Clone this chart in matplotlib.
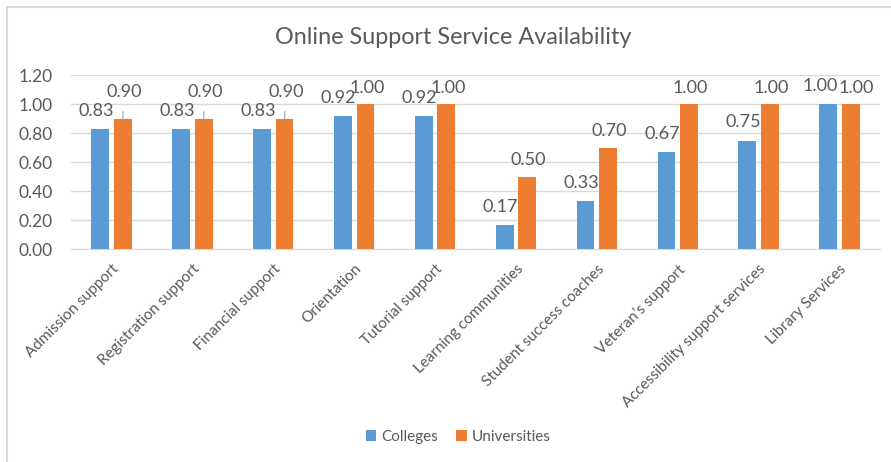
import matplotlib.pyplot as plt
import numpy as np
from matplotlib.patches import Rectangle

services = ["Admission support", "Registration support", "Financial support", "Orientation",
            "Tutorial support", "Learning communities", "Student success coaches",
            "Veteran\u2019s support", "Accessibility support services", "Library Services"]
colleges = [0.83, 0.83, 0.83, 0.92, 0.92, 0.17, 0.33, 0.67, 0.75, 1.00]
universities = [0.90, 0.90, 0.90, 1.00, 1.00, 0.50, 0.70, 1.00, 1.00, 1.00]

plt.rcParams['font.family'] = ['Lato', 'DejaVu Sans']
gray = "#595959"
blue = "#5B9BD5"
orange = "#ED7D31"

fig = plt.figure(figsize=(8.91, 4.62), dpi=100)
ax = fig.add_axes([71/891, 1 - 249.3/462, (880-71)/891, (249.3-75.3)/462])

# chart border like the spreadsheet frame
fig.patches.append(Rectangle((6.5/891, -0.1), 1.2, 1.1 - 7.5/462, transform=fig.transFigure,
                             fill=False, edgecolor="#D9D9D9", linewidth=1.5))

x = np.arange(len(services))
w = 0.22
off = 0.14
b1 = ax.bar(x - off, colleges, w, color=blue, label="Colleges")
b2 = ax.bar(x + off, universities, w, color=orange, label="Universities")

ax.set_xlim(-0.5, len(services) - 0.5)
ax.set_ylim(0, 1.2)
ax.set_yticks(np.arange(0, 1.21, 0.2))
ax.set_yticklabels([f"{v:.2f}" for v in np.arange(0, 1.21, 0.2)])
ax.grid(axis='y', color="#D9D9D9", linewidth=1)
ax.set_axisbelow(True)
for s in ["top", "right", "left"]:
    ax.spines[s].set_visible(False)
ax.spines["bottom"].set_color("#D9D9D9")
ax.tick_params(axis='both', length=0, colors=gray)
ax.tick_params(axis='y', pad=13, labelsize=12.5)
ax.set_xticks(x)
ax.set_xticklabels(services, rotation=45, ha='right', rotation_mode='anchor', fontsize=11)
ax.tick_params(axis='x', pad=9)

# data labels
for i, (c, u) in enumerate(zip(colleges, universities)):
    dx = -6 if i == 9 else -3
    ax.annotate(f"{c:.2f}", (x[i] - off, c), xytext=(dx, 13), textcoords='offset points',
                ha='center', va='center', fontsize=13, color=gray)
    if u - c < 0.1 and u < 1.0:
        ax.annotate(f"{u:.2f}", (x[i] + off, u), xytext=(1, 19), textcoords='offset points',
                    ha='center', va='center', fontsize=13, color=gray,
                    arrowprops=dict(arrowstyle='-', color="#A6A6A6", lw=0.8, shrinkA=6, shrinkB=0))
    else:
        ax.annotate(f"{u:.2f}", (x[i] + off, u), xytext=(4 if i == 9 else 1, 12), textcoords='offset points',
                    ha='center', va='center', fontsize=13, color=gray)

fig.text(453/891, 1 - 38/462, "Online Support Service Availability", ha='center', va='center',
         fontsize=16.8, color=gray)
fig.legend(handles=[b1, b2], loc='center', bbox_to_anchor=(458/891, 1 - 437/462), ncol=2,
           frameon=False, fontsize=11, labelcolor=gray, handlelength=0.7, handleheight=0.7,
           handletextpad=0.3, columnspacing=1.2)

fig.savefig("out.png", dpi=100)
